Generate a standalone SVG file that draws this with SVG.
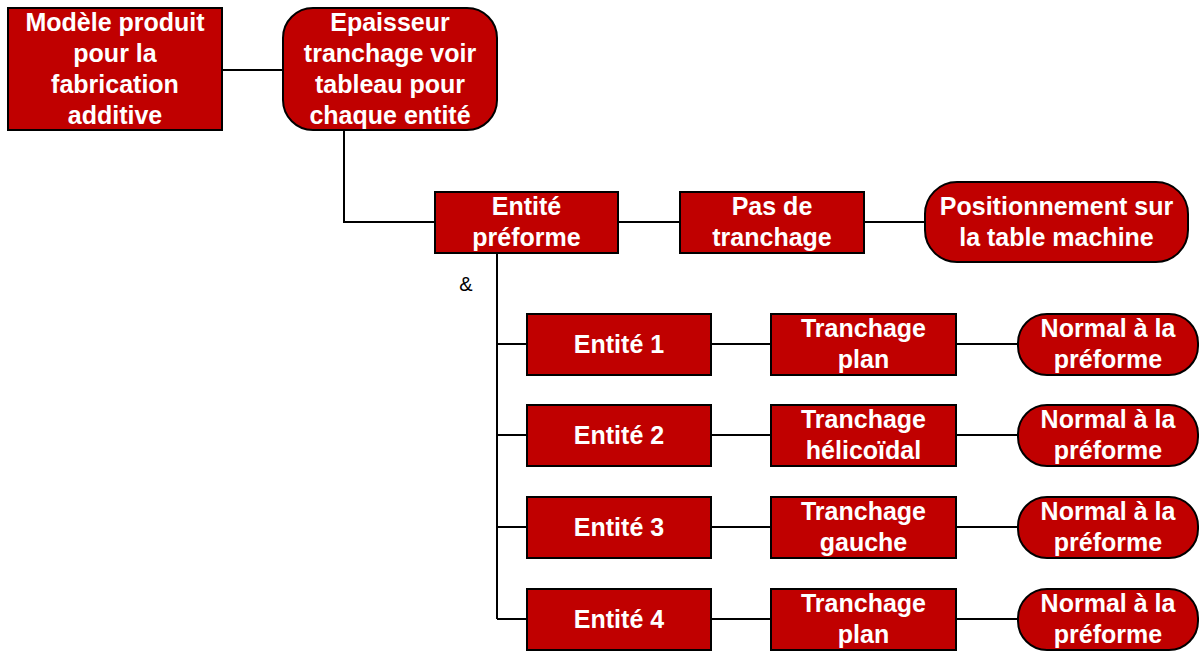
<svg xmlns="http://www.w3.org/2000/svg" width="1200" height="651" viewBox="0 0 1200 651">
<style>
.n{fill:#c00000;stroke:#000;stroke-width:2}
.t{font-family:"Liberation Sans",Arial,sans-serif;font-weight:bold;font-size:25px;fill:#fff;text-anchor:middle}
.c{fill:none;stroke:#000;stroke-width:2}
.a{font-family:"Liberation Sans",Arial,sans-serif;font-size:20px;fill:#000;text-anchor:middle}
</style>
<rect width="1200" height="651" fill="#fff"/>
<g id="connectors">
<path class="c" d="M222 70H283"/>
<path class="c" d="M344 130V222H435"/>
<path class="c" d="M618 222H680"/>
<path class="c" d="M864 222H925"/>
<path class="c" d="M497 253V619"/>
<path class="c" d="M497 344H527M711 344H771M956 344H1018"/>
<path class="c" d="M497 435H527M711 435H771M956 435H1018"/>
<path class="c" d="M497 527H527M711 527H771M956 527H1018"/>
<path class="c" d="M497 619H527M711 619H771M956 619H1018"/>
<text class="a" x="466" y="291">&amp;</text>
</g>
<g id="modele">
<rect class="n" x="8" y="8" width="214" height="122"/>
<text class="t" x="115" y="31">Modèle produit</text>
<text class="t" x="115" y="62">pour la</text>
<text class="t" x="115" y="93">fabrication</text>
<text class="t" x="115" y="124">additive</text>
</g>
<g id="epaisseur">
<rect class="n" x="283" y="8" width="214" height="122" rx="30"/>
<text class="t" x="390" y="31">Epaisseur</text>
<text class="t" x="390" y="62">tranchage voir</text>
<text class="t" x="390" y="93">tableau pour</text>
<text class="t" x="390" y="124">chaque entité</text>
</g>
<g id="entite-preforme">
<rect class="n" x="435" y="192" width="183" height="61"/>
<text class="t" x="526.5" y="215">Entité</text>
<text class="t" x="526.5" y="246">préforme</text>
</g>
<g id="pas">
<rect class="n" x="680" y="192" width="184" height="61"/>
<text class="t" x="772" y="215">Pas de</text>
<text class="t" x="772" y="246">tranchage</text>
</g>
<g id="positionnement">
<rect class="n" x="925" y="182" width="263" height="80" rx="32"/>
<text class="t" x="1056.5" y="215">Positionnement sur</text>
<text class="t" x="1056.5" y="246">la table machine</text>
</g>
<g id="entite1">
<rect class="n" x="527" y="314" width="184" height="61"/>
<text class="t" x="619" y="353">Entité 1</text>
</g>
<g id="tranchage1">
<rect class="n" x="771" y="314" width="185" height="61"/>
<text class="t" x="863.5" y="337">Tranchage</text>
<text class="t" x="863.5" y="368">plan</text>
</g>
<g id="normal1">
<rect class="n" x="1018" y="314" width="180" height="61" rx="29"/>
<text class="t" x="1108" y="337">Normal à la</text>
<text class="t" x="1108" y="368">préforme</text>
</g>
<g id="entite2">
<rect class="n" x="527" y="405" width="184" height="61"/>
<text class="t" x="619" y="444">Entité 2</text>
</g>
<g id="tranchage2">
<rect class="n" x="771" y="405" width="185" height="61"/>
<text class="t" x="863.5" y="428">Tranchage</text>
<text class="t" x="863.5" y="459">hélicoïdal</text>
</g>
<g id="normal2">
<rect class="n" x="1018" y="405" width="180" height="61" rx="29"/>
<text class="t" x="1108" y="428">Normal à la</text>
<text class="t" x="1108" y="459">préforme</text>
</g>
<g id="entite3">
<rect class="n" x="527" y="497" width="184" height="61"/>
<text class="t" x="619" y="536">Entité 3</text>
</g>
<g id="tranchage3">
<rect class="n" x="771" y="497" width="185" height="61"/>
<text class="t" x="863.5" y="520">Tranchage</text>
<text class="t" x="863.5" y="551">gauche</text>
</g>
<g id="normal3">
<rect class="n" x="1018" y="497" width="180" height="61" rx="29"/>
<text class="t" x="1108" y="520">Normal à la</text>
<text class="t" x="1108" y="551">préforme</text>
</g>
<g id="entite4">
<rect class="n" x="527" y="589" width="184" height="61"/>
<text class="t" x="619" y="628">Entité 4</text>
</g>
<g id="tranchage4">
<rect class="n" x="771" y="589" width="185" height="61"/>
<text class="t" x="863.5" y="612">Tranchage</text>
<text class="t" x="863.5" y="643">plan</text>
</g>
<g id="normal4">
<rect class="n" x="1018" y="589" width="180" height="61" rx="29"/>
<text class="t" x="1108" y="612">Normal à la</text>
<text class="t" x="1108" y="643">préforme</text>
</g>
</svg>
